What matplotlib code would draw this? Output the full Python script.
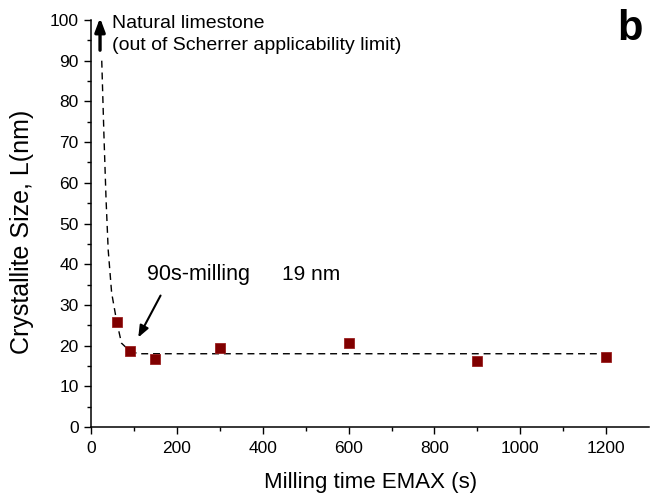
import matplotlib.pyplot as plt
import numpy as np

# Measured crystallite size vs milling time
milling_time = [60, 90, 150, 300, 600, 900, 1200]
crystallite_size = [25.8, 18.7, 16.6, 19.4, 20.7, 16.2, 17.2]

# Dashed guide curve (hand drawn in the original)
guide_x = [25, 30, 35, 40, 48, 60, 71, 90, 110, 1200]
guide_y = [90, 72, 56, 43.5, 33, 25.8, 20.6, 18.7, 18, 18]

x_ticks = [0, 200, 400, 600, 800, 1000, 1200]
y_ticks = [0, 10, 20, 30, 40, 50, 60, 70, 80, 90, 100]

plt.rcParams['font.family'] = ['Liberation Sans', 'DejaVu Sans']

fig = plt.figure(figsize=(6.52, 4.99), dpi=100)
ax = fig.add_axes([0.1396, 0.1443, 0.856, 0.8156])

ax.plot(guide_x, guide_y, color='black', lw=1.0, ls=(0, (5, 3.5)))
ax.plot(milling_time, crystallite_size, ls='none', marker='s', markersize=7.5,
        color='#800000', markeredgecolor='#9a2020', markeredgewidth=0.6)

ax.set_xlim(0, 1300)
ax.set_ylim(0, 100)
ax.set_xticks(x_ticks)
ax.set_yticks(y_ticks)
ax.set_xticks(np.arange(100, 1300, 200), minor=True)
ax.set_yticks(np.arange(5, 100, 10), minor=True)
ax.tick_params(which='major', direction='out', length=5.3, width=1.0, labelsize=12.5)
ax.tick_params(axis='x', which='major', pad=4.5)
ax.tick_params(axis='y', which='major', pad=3.5)
ax.tick_params(which='minor', direction='out', length=3, width=1.0)

for side in ['top', 'right']:
    ax.spines[side].set_visible(False)
for side in ['left', 'bottom']:
    ax.spines[side].set_linewidth(1.1)

ax.set_xlabel('Milling time EMAX (s)', fontsize=16, labelpad=12)
ax.set_ylabel('Crystallite Size, L(nm)', fontsize=18)
ax.yaxis.set_label_coords(-0.103, 0.48)

# Natural limestone arrow and labels
ax.annotate('', xy=(21, 101.2), xytext=(21, 91.9), annotation_clip=False,
            arrowprops=dict(arrowstyle='-|>,head_length=0.8,head_width=0.3',
                            color='black', lw=2.4))
ax.text(49, 98, 'Natural limestone', fontsize=14, va='baseline')
ax.text(49, 92.6, '(out of Scherrer applicability limit)', fontsize=14, va='baseline')

# 90 s milling annotation
ax.annotate('', xy=(107, 21.4), xytext=(165, 32.9),
            arrowprops=dict(arrowstyle='-|>,head_length=0.7,head_width=0.28',
                            color='black', lw=1.5))
ax.text(130, 36.1, '90s-milling', fontsize=15.5, va='baseline')
ax.text(445, 36.1, '19 nm', fontsize=15, va='baseline')

fig.text(0.986, 0.92, 'b', fontsize=30, fontweight='bold', ha='right', va='baseline')

fig.savefig('out.png', dpi=100)
